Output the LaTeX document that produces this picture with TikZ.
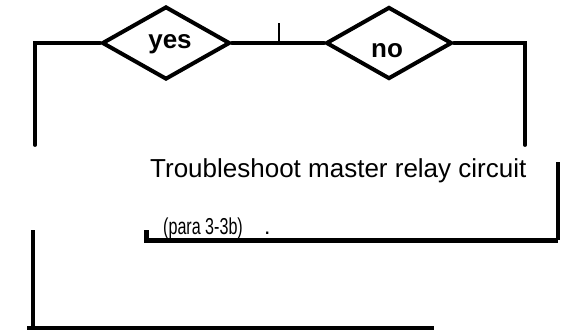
\documentclass[tikz,border=0pt]{standalone}
\usepackage{fontspec}
\usepackage{graphicx}
\setmainfont{Liberation Sans}
\usetikzlibrary{shapes.geometric}
\tikzset{
  wire/.style={line width=3.8pt, line cap=round, line join=miter},
  heavy/.style={line width=5pt},
  dia/.style={diamond, draw, line width=4pt, inner sep=0pt, aspect=1.75, minimum width=128pt, minimum height=73pt},
  lbl/.style={inner sep=0pt, font=\fontsize{26}{30}\selectfont},
  small/.style={inner sep=0pt, font=\fontsize{23}{26}\selectfont},
}
\begin{document}
\begin{tikzpicture}[x=1pt,y=-1pt]
\useasboundingbox (0,0) rectangle (562,330);
% decisions
\node[dia] (yes) at (166,43) {};
\node[dia, minimum width=126pt, minimum height=72pt, aspect=1.75] (no) at (389,43) {};
\node[lbl, anchor=base] (yest) at (170,48) {\bfseries yes};
\node[lbl, anchor=base] (not) at (387,57) {\bfseries no};
% corners and ends
\coordinate (lc) at (35,43);
\coordinate (le) at (35,145);
\coordinate (rc) at (525,43);
\coordinate (re) at (525,145);
\coordinate (tk) at (279,23);
\coordinate (tb) at (279,43);
\draw[wire] (yes.west) -- (lc) -- (le);
\draw[wire] (no.east) -- (rc) -- (re);
\draw[wire] (yes.east) -- (no.west);
\draw[line width=2.6pt] (tk) -- (tb);
% box text
\node[lbl, anchor=base west] (tmr) at (150,177) {Troubleshoot master relay circuit};
\node[small, anchor=base west] (para) at (163,234) {\scalebox{0.7}[1]{(para 3-3b)}};
\node[small, anchor=base west] (dot) at (264,234) {.};
% box outline pieces
\coordinate (bl) at (146,230);
\coordinate (blc) at (146,240);
\coordinate (brc) at (558,240);
\coordinate (brt) at (558,162);
\draw[heavy] (bl) -- (blc) -- (brc);
\draw[wire, line cap=butt] (brc) -- (brt);
% lower left return
\coordinate (ll) at (33,230);
\coordinate (llc) at (33,328);
\coordinate (lle) at (434,328);
\coordinate (lls) at (27,328);
\draw[wire, line cap=butt] (ll) -- (llc);
\draw[wire, line cap=butt] (lls) -- (lle);
\end{tikzpicture}
\end{document}
